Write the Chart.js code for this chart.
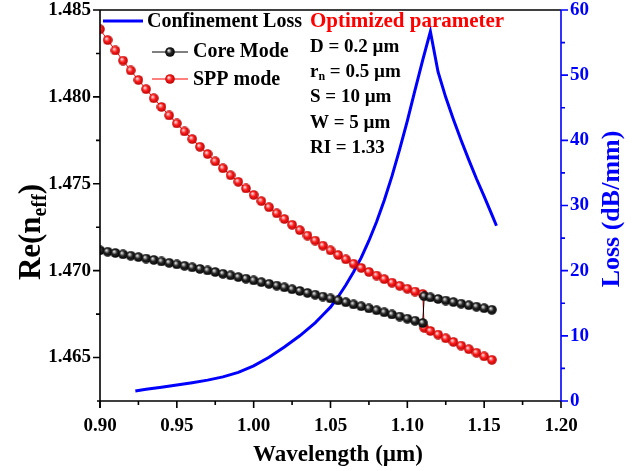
<!DOCTYPE html>
<html>
<head>
<meta charset="utf-8">
<script src="https://cdn.jsdelivr.net/npm/chart.js@4.4.1/dist/chart.umd.min.js"></script>
<style>
  html, body { margin: 0; padding: 0; background: #fff; }
  #wrap { width: 640px; height: 471px; }
</style>
</head>
<body>
<div id="wrap"><canvas id="chart"></canvas></div>
<script>
// wavelengths (µm) shared by both mode curves, anti-crossing near 1.11
const modeWl = [
  0.900, 0.905, 0.910, 0.915, 0.920, 0.925, 0.930, 0.935, 0.940, 0.945,
  0.950, 0.955, 0.960, 0.965, 0.970, 0.975, 0.980, 0.985, 0.990, 0.995,
  1.000, 1.005, 1.010, 1.015, 1.020, 1.025, 1.030, 1.035, 1.040, 1.045,
  1.050, 1.055, 1.060, 1.065, 1.070, 1.075, 1.080, 1.085, 1.090, 1.095,
  1.100, 1.105, 1.110, 1.111, 1.115, 1.120, 1.125, 1.130, 1.135, 1.140,
  1.145, 1.150, 1.155
]
const coreIndex = [
  1.47117, 1.47109, 1.47102, 1.47094, 1.47086, 1.47078, 1.47070, 1.47062, 1.47053, 1.47045,
  1.47036, 1.47028, 1.47019, 1.47010, 1.47001, 1.46992, 1.46982, 1.46973, 1.46963, 1.46954,
  1.46944, 1.46934, 1.46924, 1.46914, 1.46904, 1.46893, 1.46883, 1.46872, 1.46862, 1.46851,
  1.46840, 1.46829, 1.46818, 1.46806, 1.46795, 1.46783, 1.46772, 1.46760, 1.46748, 1.46736,
  1.46724, 1.46712, 1.46699, 1.46853, 1.46846, 1.46837, 1.46828, 1.46819, 1.46810, 1.46801,
  1.46793, 1.46784, 1.46775
]
const sppIndex = [
  1.48389, 1.48327, 1.48267, 1.48209, 1.48152, 1.48097, 1.48044, 1.47992, 1.47942, 1.47893,
  1.47847, 1.47801, 1.47757, 1.47713, 1.47671, 1.47629, 1.47589, 1.47549, 1.47511, 1.47473,
  1.47436, 1.47400, 1.47365, 1.47330, 1.47297, 1.47264, 1.47233, 1.47202, 1.47173, 1.47144,
  1.47117, 1.47090, 1.47065, 1.47040, 1.47016, 1.46993, 1.46972, 1.46951, 1.46931, 1.46913,
  1.46896, 1.46880, 1.46866, 1.46671, 1.46653, 1.46632, 1.46611, 1.46590, 1.46569, 1.46548,
  1.46528, 1.46507, 1.46487
]
const lossWl = [
  0.923, 0.930, 0.940, 0.950, 0.960, 0.970, 0.980, 0.990, 1.000, 1.010,
  1.020, 1.030, 1.040, 1.045, 1.050, 1.055, 1.060, 1.065, 1.070, 1.075,
  1.080, 1.085, 1.090, 1.095, 1.100, 1.105, 1.110, 1.115, 1.120, 1.125,
  1.130, 1.135, 1.140, 1.145, 1.150, 1.155, 1.158
]
const lossValues = [
  1.55, 1.8, 2.1, 2.45, 2.8, 3.2, 3.7, 4.4, 5.4, 6.7,
  8.3, 10.0, 12.0, 13.2, 14.4, 16.0, 17.8, 19.8, 22.0, 24.6,
  27.5, 30.8, 34.5, 38.6, 43.0, 47.7, 52.3, 56.7, 50.5, 46.6,
  43.2, 40.0, 37.0, 34.1, 31.4, 28.6, 26.9
]
const xTicks = [0.90, 0.95, 1.00, 1.05, 1.10, 1.15, 1.20]
const indexTicks = [1.465, 1.470, 1.475, 1.480, 1.485]
const lossTicks = [0, 10, 20, 30, 40, 50, 60]
const params = ['D = 0.2 µm', 'r|n| = 0.5 µm', 'S = 10 µm', 'W = 5 µm', 'RI = 1.33']

const BLUE = '#0000ff'
const RED = '#ff0000'
const SERIF = '"Liberation Serif", "Times New Roman", serif'
const tickFont = { family: SERIF, weight: 'bold', size: 19, lineHeight: 1 }

function ball(light, mid, dark) {
  const c = document.createElement('canvas')
  c.width = c.height = 10
  const g = c.getContext('2d')
  const grad = g.createRadialGradient(3.6, 3.4, 0.4, 5, 5, 5)
  grad.addColorStop(0, light)
  grad.addColorStop(0.45, mid)
  grad.addColorStop(1, dark)
  g.fillStyle = grad
  g.beginPath()
  g.arc(5, 5, 4.8, 0, Math.PI * 2)
  g.fill()
  return c
}
const redBall = ball('#ffe4e4', '#ff1c1c', '#b00000')
const blackBall = ball('#e8e8e8', '#262626', '#000000')

const pts = (xs, ys) => xs.map((x, i) => ({ x, y: ys[i] }))

function fixedTicks(list) {
  return scale => { scale.ticks = list.map(v => ({ value: v })) }
}

// fixed box sizes, and no extra label padding pushed into the layout
function fixSize(dim, size) {
  return s => {
    s[dim] = size
    s.paddingTop = s.paddingBottom = s.paddingLeft = s.paddingRight = 0
  }
}

const decorations = {
  id: 'decorations',
  afterDatasetsDraw(chart) {
    const { ctx, chartArea: a, scales: { x, y, y2 } } = chart
    ctx.save()

    // frame and axes
    ctx.lineWidth = 1.6
    ctx.strokeStyle = '#000'
    ctx.beginPath()
    ctx.moveTo(a.left, a.top); ctx.lineTo(a.right, a.top)
    ctx.moveTo(a.left, a.top); ctx.lineTo(a.left, a.bottom + 7)
    ctx.moveTo(a.left - 3, a.bottom); ctx.lineTo(a.right, a.bottom)
    ctx.stroke()

    // bottom ticks
    ctx.beginPath()
    xTicks.forEach((v, i) => {
      const px = x.getPixelForValue(v)
      ctx.moveTo(px, a.bottom); ctx.lineTo(px, a.bottom + 7)
      if (i < xTicks.length - 1) {
        const mx = x.getPixelForValue((v + xTicks[i + 1]) / 2)
        ctx.moveTo(mx, a.bottom); ctx.lineTo(mx, a.bottom + 4)
      }
    })
    // left ticks
    indexTicks.forEach((v, i) => {
      const py = y.getPixelForValue(v)
      ctx.moveTo(a.left - 7, py); ctx.lineTo(a.left, py)
      if (i < indexTicks.length - 1) {
        const my = y.getPixelForValue((v + indexTicks[i + 1]) / 2)
        ctx.moveTo(a.left - 4, my); ctx.lineTo(a.left, my)
      }
    })
    ctx.stroke()

    // right axis in blue
    ctx.strokeStyle = BLUE
    ctx.beginPath()
    ctx.moveTo(a.right, a.top); ctx.lineTo(a.right, a.bottom)
    lossTicks.forEach((v, i) => {
      const py = y2.getPixelForValue(v)
      ctx.moveTo(a.right, py); ctx.lineTo(a.right + 7, py)
      if (i < lossTicks.length - 1) {
        const my = y2.getPixelForValue((v + lossTicks[i + 1]) / 2)
        ctx.moveTo(a.right, my); ctx.lineTo(a.right + 4, my)
      }
    })
    ctx.stroke()

    // axis titles
    ctx.fillStyle = '#000'
    ctx.textBaseline = 'alphabetic'
    ctx.textAlign = 'center'
    ctx.font = `bold 23px ${SERIF}`
    ctx.fillText('Wavelength (µm)', 338, 461)

    ctx.save()
    ctx.translate(30, 232)
    ctx.rotate(-Math.PI / 2)
    ctx.textAlign = 'left'
    const big = `bold 31px ${SERIF}`, small = `bold 20px ${SERIF}`
    ctx.font = big
    const w1 = ctx.measureText('Re(n').width
    const w3 = ctx.measureText(')').width
    ctx.font = small
    const w2 = ctx.measureText('eff').width
    const sx = -(w1 + w2 + w3) / 2
    ctx.font = big
    ctx.fillText('Re(n', sx, 10)
    ctx.font = small
    ctx.fillText('eff', sx + w1, 16)
    ctx.font = big
    ctx.fillText(')', sx + w1 + w2, 10)
    ctx.restore()

    ctx.save()
    ctx.translate(610, 209)
    ctx.rotate(-Math.PI / 2)
    ctx.fillStyle = BLUE
    ctx.font = `bold 26px ${SERIF}`
    ctx.fillText('Loss (dB/mm)', 0, 9)
    ctx.restore()

    // legend
    ctx.textAlign = 'left'
    ctx.font = `bold 20px ${SERIF}`
    ctx.strokeStyle = BLUE
    ctx.lineWidth = 3
    ctx.beginPath(); ctx.moveTo(103, 21); ctx.lineTo(143, 21); ctx.stroke()
    ctx.fillText('Confinement Loss', 147, 27)
    ctx.lineWidth = 1
    ctx.strokeStyle = '#000'
    ctx.beginPath(); ctx.moveTo(152, 52); ctx.lineTo(188, 52); ctx.stroke()
    ctx.drawImage(blackBall, 165, 47)
    ctx.fillText('Core Mode', 193, 57)
    ctx.strokeStyle = RED
    ctx.beginPath(); ctx.moveTo(152, 79); ctx.lineTo(188, 79); ctx.stroke()
    ctx.drawImage(redBall, 165, 74)
    ctx.fillText('SPP mode', 193, 85)

    // optimized parameters
    ctx.fillStyle = RED
    ctx.font = `bold 21px ${SERIF}`
    ctx.fillText('Optimized parameter', 310, 27)
    ctx.fillStyle = '#000'
    ctx.font = `bold 19px ${SERIF}`
    params.forEach((p, i) => {
      const by = 52 + i * 25.2
      const parts = p.split('|')
      if (parts.length === 1) { ctx.fillText(p, 310, by); return }
      ctx.fillText(parts[0], 310, by)
      let px = 310 + ctx.measureText(parts[0]).width
      ctx.font = `bold 12px ${SERIF}`
      ctx.fillText(parts[1], px, by + 3)
      px += ctx.measureText(parts[1]).width
      ctx.font = `bold 19px ${SERIF}`
      ctx.fillText(parts[2], px, by)
    })

    ctx.restore()
  }
}

new Chart(document.getElementById('chart'), {
  type: 'line',
  data: {
    datasets: [
      {
        label: 'Core Mode',
        data: pts(modeWl, coreIndex),
        yAxisID: 'y',
        borderColor: '#000',
        borderWidth: 1,
        pointStyle: blackBall,
        pointRadius: 5,
        order: 0
      },
      {
        label: 'SPP mode',
        data: pts(modeWl, sppIndex),
        yAxisID: 'y',
        borderColor: RED,
        borderWidth: 1,
        pointStyle: redBall,
        pointRadius: 5,
        order: 1
      },
      {
        label: 'Confinement Loss',
        data: pts(lossWl, lossValues),
        yAxisID: 'y2',
        borderColor: BLUE,
        borderWidth: 3,
        pointRadius: 0,
        order: 2
      }
    ]
  },
  options: {
    responsive: true,
    maintainAspectRatio: false,
    animation: false,
    layout: { padding: { top: 10, left: 0, right: 0, bottom: 0 } },
    plugins: {
      legend: { display: false },
      tooltip: { enabled: false }
    },
    scales: {
      x: {
        type: 'linear',
        min: 0.9,
        max: 1.2,
        afterBuildTicks: fixedTicks(xTicks),
        afterFit: fixSize('height', 70),
        grid: { display: false, drawTicks: false },
        border: { display: false },
        ticks: { color: '#000', font: tickFont, padding: 16, maxRotation: 0, autoSkip: false,
                 callback: v => v.toFixed(2) }
      },
      y: {
        position: 'left',
        min: 1.4625,
        max: 1.485,
        afterBuildTicks: fixedTicks(indexTicks),
        afterFit: fixSize('width', 100),
        grid: { display: false, drawTicks: false },
        border: { display: false },
        ticks: { color: '#000', font: tickFont, padding: 9, autoSkip: false,
                 callback: v => v.toFixed(3) }
      },
      y2: {
        position: 'right',
        min: 0,
        max: 60,
        afterBuildTicks: fixedTicks(lossTicks),
        afterFit: fixSize('width', 79),
        grid: { display: false, drawTicks: false },
        border: { display: false },
        ticks: { color: BLUE, font: tickFont, padding: 9, autoSkip: false,
                 callback: v => String(v) }
      }
    }
  },
  plugins: [decorations]
})
</script>
</body>
</html>
